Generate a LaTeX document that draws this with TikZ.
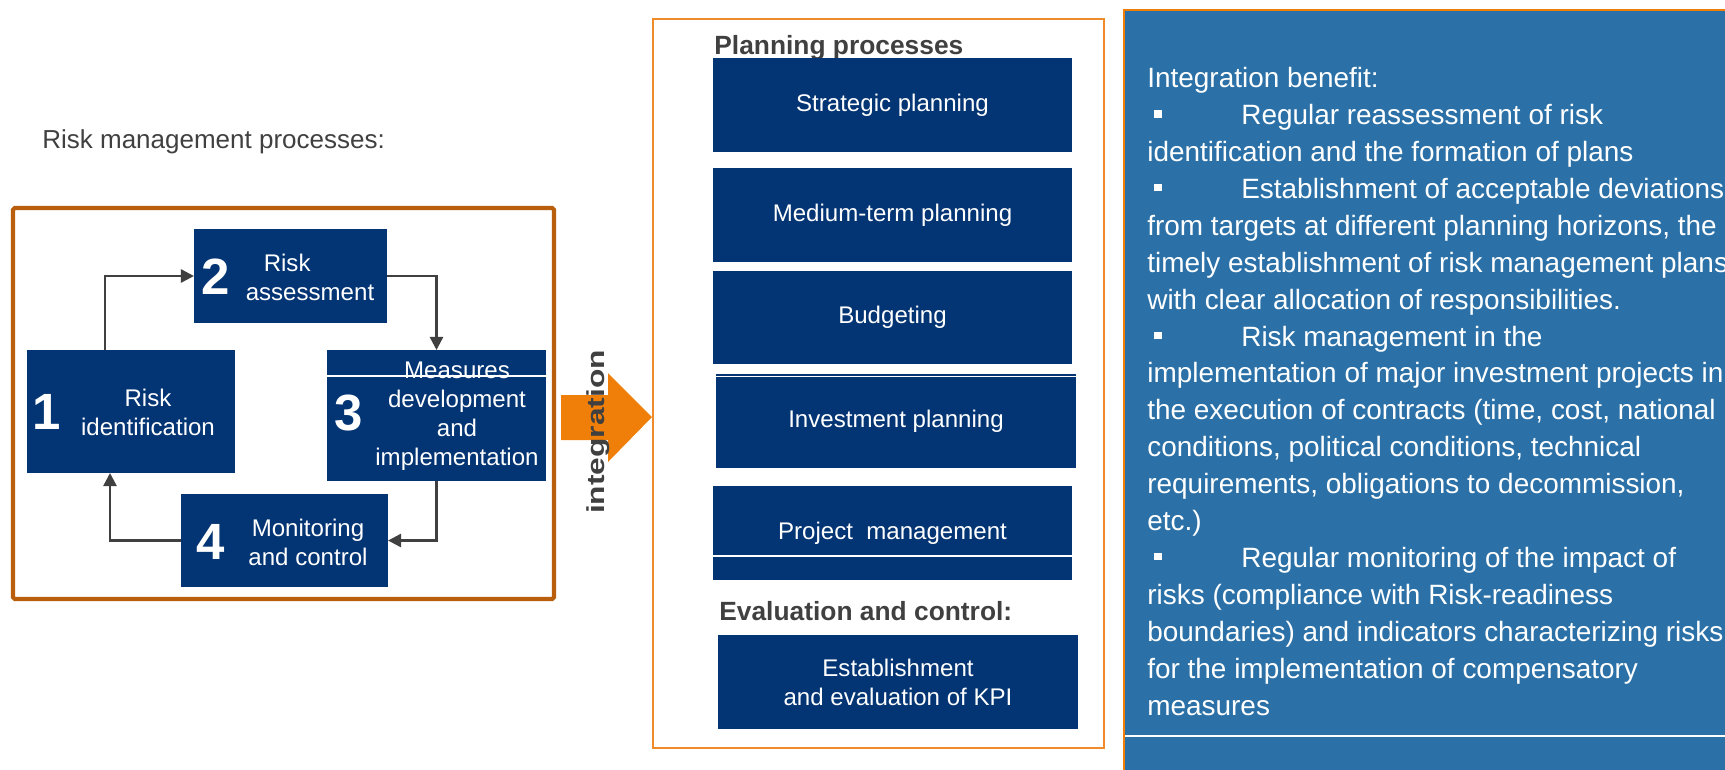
\documentclass[tikz,border=0pt]{standalone}
\usepackage{fontspec}
\setmainfont{Liberation Sans}
\usepackage{graphicx}
\usetikzlibrary{arrows.meta,fit}
\definecolor{boxblue}{HTML}{033473}
\definecolor{panelblue}{HTML}{2B71A7}
\definecolor{linegray}{HTML}{404040}
\definecolor{frameA}{HTML}{B95E0C}
\definecolor{frameB}{HTML}{F08B2B}
\definecolor{arrowor}{HTML}{F07F0A}
\newcommand\sqbul{\makebox[1.88cm][l]{\hspace*{4pt}\rule[4pt]{4.2pt}{4.2pt}}}

\begin{document}
\begin{tikzpicture}[x=0.02cm,y=-0.02cm,
    box/.style={fill=boxblue,inner sep=0pt,outer sep=0pt},
    num/.style={text=white,inner sep=0pt,font=\bfseries\fontsize{29}{29}\selectfont},
    txt/.style={text=white,align=center,font=\fontsize{13.7}{16.5}\selectfont},
    flow/.style={draw=linegray,line width=1.4pt,-{Triangle[length=7.5pt,width=7.5pt]}},
    headline/.style={text=linegray,inner sep=0pt,font=\bfseries\fontsize{15}{17}\selectfont,anchor=base west}]
    \useasboundingbox (0,0) rectangle (1725,769);
    % risk management loop
    \node[anchor=base west,inner sep=0pt,text=linegray,font=\fontsize{14.8}{17}\selectfont] (rmtitle) at (42,148) {Risk management processes:};
    \draw[frameA,line width=2.3pt,rounded corners=1pt] (13,208) rectangle (554,599);
    \node[box,fit={(27,350)(235,473)}] (ident) {};
    \node[box,fit={(194,229)(387,323)}] (assess) {};
    \node[box,fit={(327,350)(546,481)}] (meas) {};
    \node[box,fit={(181,494)(388,587)}] (monit) {};
    \draw[white,line width=0.8pt] ([yshift=-0.52cm]meas.north west) -- ([yshift=-0.52cm]meas.north east);
    \foreach \N/\X/\Y/\TX/\TY/\Lab in {1/47/412/148/412/{Risk\\identification}, 2/216/277/310/277/{\hspace*{-26pt}Risk\\assessment}, 3/349/413/457/416/{Measures\\development\\and\\implementation}, 4/211/542/308/542/{Monitoring\\and control}}
    {
    \node[num] (n\N) at (\X,\Y) {\N};
    \node[txt] (t\N) at (\TX,\TY) {\Lab};
    }
    % loop arrows
    \coordinate (k1) at (105,277);
    \coordinate (k4) at (110,541);
    \draw[flow] (ident.north -| k1) |- (assess.west);
    \draw[flow] (assess.east) -| (meas.north);
    \draw[flow] (meas.south) |- (monit.east);
    \draw[flow] (monit.west) -| (ident.south -| k4);
    % integration arrow
    \fill[arrowor] (561,395) -- (608,395) -- (608,373) -- (652,417) -- (608,462) -- (608,440) -- (561,440) -- cycle;
    \node[rotate=90,text=linegray,font=\bfseries\fontsize{14}{14}\selectfont] (integ) at (598,432) {\scalebox{1.29}[1]{integration}};
    % planning processes
    \draw[frameB,line width=1.1pt] (653,19) rectangle (1104,748);
    \node[headline] (plan) at (714,54) {Planning processes};
    \foreach \Name/\xa/\ya/\xb/\yb/\Lab in {strat/713/58/1072/152/{Strategic planning}, medium/713/168/1072/262/{Medium-term planning}, budget/713/271/1072/364/{Budgeting}, invest/716/374/1076/468/{Investment planning}, project/713/486/1072/580/{Project\ \ management}, kpi/718/635/1078/729/{Establishment\\and evaluation of KPI}}
    {
    \node[box,fit={(\xa,\ya)(\xb,\yb)}] (\Name) {};
    \node[txt] (\Name-t) at (\Name.center) {\Lab};
    }
    \draw[white,line width=0.6pt] ([yshift=-0.05cm]invest.north west) -- ([yshift=-0.05cm]invest.north east);
    \draw[white,line width=0.8pt] ([yshift=-1.4cm]project.north west) -- ([yshift=-1.4cm]project.north east);
    \node[headline] (evalc) at (719,620) {Evaluation and control:};
    % benefit panel
    \fill[panelblue] (1124,10) rectangle (1730,775);
    \draw[arrowor,line width=1pt] (1124,775) -- (1124,10) -- (1730,10);
    \draw[white,line width=0.8pt] (1125,736) -- (1730,736);
    \node[anchor=base west,text=white,align=left,inner sep=0pt,font=\fontsize{15.9}{21}\selectfont] (benefit) at (1147,715) {Integration benefit:\\
    \sqbul Regular reassessment of risk\\
    identification and the formation of plans\\
    \sqbul Establishment of acceptable deviations\\
    from targets at different planning horizons, the\\
    timely establishment of risk management plans\\
    with clear allocation of responsibilities.\\
    \sqbul Risk management in the\\
    implementation of major investment projects in\\
    the execution of contracts (time, cost, national\\
    conditions, political conditions, technical\\
    requirements, obligations to decommission,\\
    etc.)\\
    \sqbul Regular monitoring of the impact of\\
    risks (compliance with Risk-readiness\\
    boundaries) and indicators characterizing risks\\
    for the implementation of compensatory\\
    measures};
\end{tikzpicture}
\end{document}
